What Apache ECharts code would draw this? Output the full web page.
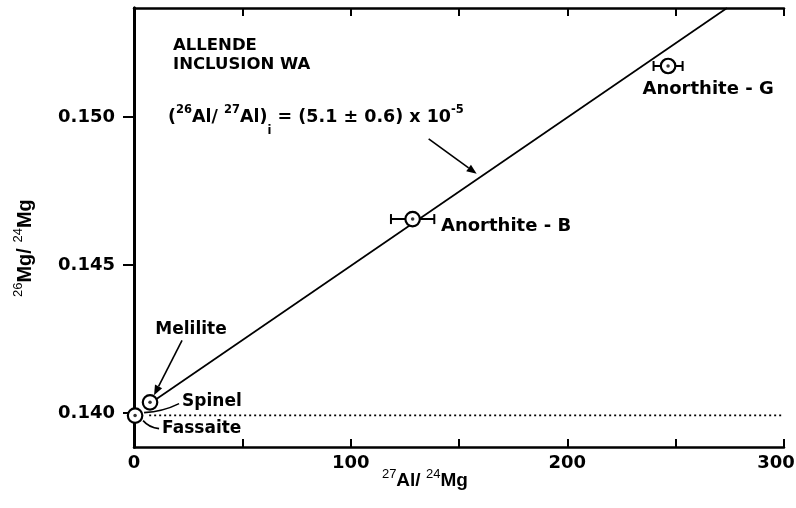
<!DOCTYPE html>
<html><head><meta charset="utf-8">
<script src="https://cdn.jsdelivr.net/npm/echarts@6/dist/echarts.min.js"></script>
<style>html,body{margin:0;padding:0;background:#fff}#c{width:796px;height:508px}</style>
</head><body><div id="c"></div>
<script>
// ---- data ----
const xTickLabels = [0, 100, 200, 300];
const yTickLabels = [0.140, 0.145, 0.150];
const pointLabels = ['', '', 'Anorthite - B', 'Anorthite - G'];
const pointX = [0.5, 7.4, 128.6, 246.5];
const pointY = [0.13991, 0.14036, 0.14655, 0.15172];
const pointXErr = [0, 0, 10, 6.7];
const fitX = [9.7, 273.7];
const fitY = [0.14044, 0.15368];
const refX = [7, 299];
const refY = [0.13992, 0.13992];
const xRange = [0, 300];
const yRange = [0.13885, 0.15368];

const F = 'DejaVu Sans';
const chart = echarts.init(document.getElementById('c'));

const axisLineStyle = w => ({ show: true, lineStyle: { color: '#000', width: w } });

const option = {
  animation: false,
  backgroundColor: '#fff',
  grid: { left: 134, right: 12, top: 8, bottom: 61, containLabel: false, outerBoundsMode: 'none' },
  xAxis: [
    { type: 'value', min: xRange[0], max: xRange[1], interval: 50, position: 'bottom',
      axisLine: axisLineStyle(2.5),
      axisTick: { inside: true, length: 8, lineStyle: { color: '#000', width: 2 } },
      axisLabel: { customValues: xTickLabels, color: '#000', fontFamily: F, fontWeight: 'bold', fontSize: 18, margin: 7,
        formatter: v => v === 300 ? '{r|300}' : String(v),
        rich: { r: { fontFamily: F, fontWeight: 'bold', fontSize: 18, color: '#000', padding: [0, 16, 0, 0] } } },
      splitLine: { show: false } },
    { type: 'value', min: xRange[0], max: xRange[1], interval: 50, position: 'top',
      axisLine: axisLineStyle(2.5),
      axisTick: { inside: true, length: 8, lineStyle: { color: '#000', width: 2 } },
      axisLabel: { show: false }, splitLine: { show: false } }
  ],
  yAxis: [
    { type: 'value', min: yRange[0], max: yRange[1], position: 'left',
      axisLine: axisLineStyle(3),
      axisTick: { customValues: yTickLabels, length: 11, lineStyle: { color: '#000', width: 2 } },
      axisLabel: { customValues: yTickLabels, formatter: v => v.toFixed(3), color: '#000', fontFamily: F, fontWeight: 'bold', fontSize: 18, margin: 19 },
      splitLine: { show: false } },
    { type: 'value', min: yRange[0], max: yRange[1], position: 'right',
      axisLine: axisLineStyle(3), axisTick: { show: false }, axisLabel: { show: false }, splitLine: { show: false } }
  ],
  series: [
    { type: 'line', data: refX.map((x, i) => [x, refY[i]]), symbol: 'none',
      lineStyle: { color: '#000', width: 1.6, type: [2, 3] }, z: 2 },
    { type: 'line', data: fitX.map((x, i) => [x, fitY[i]]), symbol: 'none',
      lineStyle: { color: '#000', width: 1.7 }, z: 2 },
    { type: 'custom', z: 3,
      data: pointX.map((x, i) => [x, pointY[i], pointXErr[i]]),
      renderItem: (params, api) => {
        const e = api.value(2);
        if (!e) return null;
        const lo = api.coord([api.value(0) - e, api.value(1)]);
        const hi = api.coord([api.value(0) + e, api.value(1)]);
        const h = 5;
        const st = { stroke: '#000', lineWidth: 2 };
        return { type: 'group', children: [
          { type: 'line', shape: { x1: lo[0], y1: lo[1], x2: hi[0], y2: hi[1] }, style: st },
          { type: 'line', shape: { x1: lo[0], y1: lo[1] - h, x2: lo[0], y2: lo[1] + h }, style: st },
          { type: 'line', shape: { x1: hi[0], y1: hi[1] - h, x2: hi[0], y2: hi[1] + h }, style: st }
        ]};
      } },
    { type: 'scatter', z: 4, symbol: 'circle', symbolSize: 14.5,
      itemStyle: { color: '#fff', borderColor: '#000', borderWidth: 2.2, opacity: 1 },
      data: pointX.map((x, i) => {
        const d = { value: [x, pointY[i]], name: pointLabels[i] };
        if (i === 2) d.label = { show: true, position: 'right', distance: 20, offset: [0, 7] };
        if (i === 3) d.label = { show: true, position: 'bottom', distance: 6, offset: [40, 0] };
        return d;
      }),
      label: { show: false, formatter: p => p.name, color: '#000', fontFamily: F, fontWeight: 'bold', fontSize: 18 } },
    { type: 'scatter', z: 5, symbol: 'circle', symbolSize: 3.5, itemStyle: { color: '#000' },
      data: pointX.map((x, i) => [x, pointY[i]]) }
  ]
};
chart.setOption(option);

// ---- annotations anchored to data points ----
const toPx = (x, y) => chart.convertToPixel({ xAxisIndex: 0, yAxisIndex: 0 }, [x, y]);
const px = i => toPx(pointX[i], pointY[i]);
function arrow(x1, y1, x2, y2) {
  const a = Math.atan2(y2 - y1, x2 - x1), L = 10, W = 4;
  const bx = x2 - L * Math.cos(a), by = y2 - L * Math.sin(a);
  return [
    { type: 'line', shape: { x1, y1, x2: bx, y2: by }, style: { stroke: '#000', lineWidth: 1.6 } },
    { type: 'polygon', shape: { points: [[x2, y2], [bx - W * Math.sin(a), by + W * Math.cos(a)], [bx + W * Math.sin(a), by - W * Math.cos(a)]] }, style: { fill: '#000' } }
  ];
}
const pF = px(0), pM = px(1);
const fitA = toPx(160, fitY[0] + (160 - fitX[0]) * (fitY[1] - fitY[0]) / (fitX[1] - fitX[0]));
const txt = (t, x, y, extra) => ({ type: 'text', style: Object.assign({ text: t, x, y, fill: '#000', font: 'bold 17px "DejaVu Sans"', textAlign: 'left', textVerticalAlign: 'middle' }, extra || {}) });

// rich-text pieces: every token aligned 'top' with explicit height; its centre sits at height/2
// block height B = subH; main centre = 15 from top -> (B/2 - 15) above block centre
function richSet(fs, supFs, fam, w, supW, subH) {
  const tok = (size, weight, h) => ({ fontSize: size, fontWeight: weight, fontFamily: fam, lineHeight: h, height: h, verticalAlign: 'top', color: '#000' });
  return { m: tok(fs, w, 30), s: tok(supFs, supW, 16), i: tok(supFs, supW, subH), pad: tok(1, 'normal', subH) };
}

const graphics = [
  txt('ALLENDE', 173, 46, { font: 'bold 16.5px "DejaVu Sans"' }),
  txt('INCLUSION WA', 173, 65, { font: 'bold 16.5px "DejaVu Sans"' }),
  { type: 'text', style: { x: 168, y: 117 + 14, textVerticalAlign: 'middle',
      text: '{m|(}{s|26}{m|Al/ }{s|27}{m|Al)}{i|i}{m| = (5.1 ± 0.6) x 10}{s|-5}',
      rich: richSet(17.5, 11.5, F, 'bold', 'bold', 58) } },
  ...arrow(fitA[0] - 52, fitA[1] - 38, fitA[0] - 4, fitA[1] - 3),
  txt('Melilite', pM[0] + 41, pM[1] - 73, { textAlign: 'center', font: 'bold 17px "DejaVu Sans"' }),
  ...arrow(pM[0] + 32, pM[1] - 62, pM[0] + 4, pM[1] - 7),
  txt('Spinel', pF[0] + 47, pF[1] - 14, { font: 'bold 17px "DejaVu Sans"' }),
  { type: 'bezierCurve', shape: { x1: pF[0] + 44, y1: pF[1] - 12, cpx1: pF[0] + 28, cpy1: pF[1] - 4, x2: pF[0] + 9, y2: pF[1] - 3 }, style: { stroke: '#000', lineWidth: 1.6, fill: null } },
  txt('Fassaite', pF[0] + 27, pF[1] + 13, { font: 'bold 17px "DejaVu Sans"' }),
  { type: 'bezierCurve', shape: { x1: pF[0] + 24, y1: pF[1] + 13, cpx1: pF[0] + 14, cpy1: pF[1] + 12, x2: pF[0] + 8, y2: pF[1] + 5 }, style: { stroke: '#000', lineWidth: 1.6, fill: null } },
  { type: 'text', style: { x: 425, y: 481 + 11, textAlign: 'center', textVerticalAlign: 'middle',
      text: '{s|27}{m|Al/ }{s|24}{m|Mg}{pad| }', rich: richSet(19, 13, 'Liberation Sans', 'bold', 'normal', 52) } },
  { type: 'text', x: 25 + 11, y: 248, rotation: Math.PI / 2,
    style: { x: 0, y: 0, textAlign: 'center', textVerticalAlign: 'middle',
      text: '{s|26}{m|Mg/ }{s|24}{m|Mg}{pad| }', rich: richSet(20, 13, 'Liberation Sans', 'bold', 'normal', 52) } }
];
chart.setOption({ graphic: { elements: graphics } });
</script></body></html>
